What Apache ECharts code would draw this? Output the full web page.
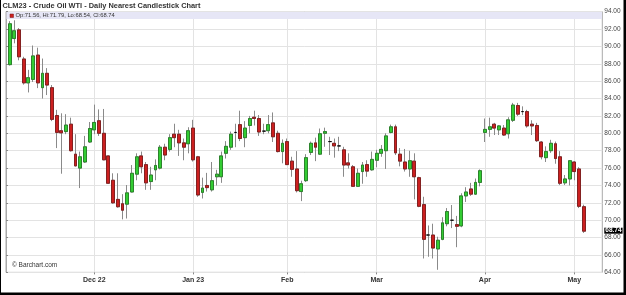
<!DOCTYPE html>
<html>
<head>
<meta charset="utf-8">
<script src="https://cdn.jsdelivr.net/npm/echarts@6/dist/echarts.min.js"></script>
<style>
html,body{margin:0;padding:0;background:#fff;}
#chart{width:626px;height:295px;}
</style>
</head>
<body>
<div id="chart"></div>
<script>
// Trading days (category axis)
var dates = [
 '2022-11-04','2022-11-07','2022-11-08','2022-11-09','2022-11-10','2022-11-11','2022-11-14','2022-11-15','2022-11-16','2022-11-17','2022-11-18','2022-11-21','2022-11-22','2022-11-23','2022-11-25','2022-11-28','2022-11-29','2022-11-30',
 '2022-12-01','2022-12-02','2022-12-05','2022-12-06','2022-12-07','2022-12-08','2022-12-09','2022-12-12','2022-12-13','2022-12-14','2022-12-15','2022-12-16','2022-12-19','2022-12-20','2022-12-21','2022-12-22','2022-12-23','2022-12-27','2022-12-28','2022-12-29','2022-12-30',
 '2023-01-03','2023-01-04','2023-01-05','2023-01-06','2023-01-09','2023-01-10','2023-01-11','2023-01-12','2023-01-13','2023-01-17','2023-01-18','2023-01-19','2023-01-20','2023-01-23','2023-01-24','2023-01-25','2023-01-26','2023-01-27','2023-01-30','2023-01-31',
 '2023-02-01','2023-02-02','2023-02-03','2023-02-06','2023-02-07','2023-02-08','2023-02-09','2023-02-10','2023-02-13','2023-02-14','2023-02-15','2023-02-16','2023-02-17','2023-02-21','2023-02-22','2023-02-23','2023-02-24','2023-02-27','2023-02-28',
 '2023-03-01','2023-03-02','2023-03-03','2023-03-06','2023-03-07','2023-03-08','2023-03-09','2023-03-10','2023-03-13','2023-03-14','2023-03-15','2023-03-16','2023-03-17','2023-03-20','2023-03-21','2023-03-22','2023-03-23','2023-03-24','2023-03-27','2023-03-28','2023-03-29','2023-03-30','2023-03-31',
 '2023-04-03','2023-04-04','2023-04-05','2023-04-06','2023-04-10','2023-04-11','2023-04-12','2023-04-13','2023-04-14','2023-04-17','2023-04-18','2023-04-19','2023-04-20','2023-04-21','2023-04-24','2023-04-25','2023-04-26','2023-04-27','2023-04-28',
 '2023-05-01','2023-05-02','2023-05-03'
];
var openP = [
 87.9,90.9,91.9,88.55,85.8,86.2,89.0,85.25,86.9,85.25,82.05,80.3,80.2,81.05,77.6,76.0,76.7,79.0,
 80.4,81.45,80.0,77.4,74.6,72.4,71.9,71.85,73.25,75.3,77.4,76.4,74.45,75.8,76.0,78.4,78.15,79.9,79.9,78.9,78.8,
 80.6,77.3,73.2,74.0,73.5,75.0,75.0,77.7,78.4,80.1,81.0,79.5,80.9,81.85,81.7,80.25,80.3,81.2,80.0,77.9,
 79.05,76.8,75.9,73.3,74.55,77.8,78.9,77.6,80.0,79.05,78.85,78.55,78.1,76.6,76.15,73.9,75.6,76.4,75.8,
 76.9,77.7,78.0,80.1,80.75,77.6,76.7,75.9,76.8,74.9,71.8,68.3,68.3,66.7,67.8,69.6,70.0,69.5,69.35,72.8,73.6,73.0,74.35,
 80.1,80.45,81.05,80.4,80.6,79.95,81.5,83.2,82.5,82.5,81.05,80.9,79.0,77.2,78.0,78.8,77.3,74.3,74.75,
 76.7,75.9,71.56
];
var highP = [
 92.9,93.0,92.1,88.8,87.3,90.1,89.85,88.6,87.5,85.55,82.7,82.3,82.2,81.8,79.9,77.9,79.7,81.3,
 83.3,82.75,82.8,77.45,75.4,75.4,73.0,74.05,76.35,77.7,77.9,76.7,76.15,77.0,78.65,78.8,79.9,81.1,80.4,79.4,80.7,
 81.55,77.4,74.9,75.45,76.7,75.8,77.9,79.1,80.2,81.1,82.6,81.4,82.0,82.6,82.1,81.1,82.1,82.4,80.3,79.3,
 79.4,77.3,77.95,74.55,77.6,79.05,79.5,80.55,80.65,79.6,79.4,79.6,78.45,77.7,76.35,75.95,76.7,76.9,77.9,
 78.1,78.65,80.0,81.0,81.0,78.3,78.2,78.0,77.7,75.0,72.7,69.4,69.6,68.1,70.35,71.4,71.75,70.5,73.1,73.8,74.3,74.8,75.85,
 81.7,81.8,81.2,80.95,80.95,81.85,83.5,83.5,83.1,82.7,81.5,81.2,79.1,78.5,79.25,79.05,77.95,75.2,76.9,
 76.8,76.1,71.79
];
var lowP = [
 87.8,90.35,88.4,85.6,84.7,85.9,85.2,84.0,84.4,81.4,78.3,75.35,79.9,77.9,76.2,73.7,76.6,78.9,
 79.9,79.7,76.9,74.2,71.9,71.45,70.1,70.2,73.2,74.6,75.4,73.5,73.5,74.6,75.85,76.9,77.9,78.4,77.4,76.9,77.7,
 76.75,72.7,72.5,73.3,73.3,74.0,74.3,77.1,78.1,78.4,79.1,78.4,80.0,80.9,79.7,79.9,80.0,79.0,77.8,76.55,
 76.35,75.0,73.2,72.2,74.4,77.5,76.8,77.5,78.45,77.5,77.2,77.95,75.0,75.95,73.85,73.85,74.2,75.0,75.7,
 76.1,77.3,75.9,80.0,77.5,76.2,75.6,75.0,72.4,71.5,65.6,65.8,65.6,64.3,67.7,69.3,69.1,66.9,69.2,72.1,72.8,72.9,73.9,
 79.0,79.6,79.8,79.8,79.7,79.4,81.3,82.0,82.1,80.65,79.8,79.0,77.0,76.7,77.75,76.5,74.05,74.05,74.0,
 74.6,71.4,68.54
];
var closeP = [
 92.6,91.8,88.8,85.8,86.4,88.9,85.8,86.9,85.55,81.6,80.1,80.05,80.95,78.0,76.25,77.3,78.45,80.55,
 81.25,80.0,76.95,74.25,72.0,71.55,71.15,73.15,75.4,77.3,76.15,74.3,75.2,76.3,78.4,77.5,79.5,79.5,78.9,78.4,80.3,
 76.95,72.9,73.7,73.75,74.55,75.3,77.4,78.5,79.9,80.1,79.4,80.6,81.7,81.7,80.15,80.25,81.0,79.6,77.9,78.85,
 76.4,75.85,73.4,74.2,77.2,78.85,78.4,79.95,80.2,79.05,78.55,78.55,76.35,76.35,73.9,75.4,76.35,75.65,77.0,
 77.7,78.15,79.7,80.75,77.75,76.8,75.9,76.85,75.0,71.6,67.8,68.3,66.8,67.7,69.7,71.0,70.0,69.3,72.8,73.25,73.0,74.35,75.7,
 80.45,80.75,80.6,80.85,79.8,81.55,83.25,82.2,82.5,80.85,80.85,79.15,77.3,77.9,78.85,77.1,74.25,74.75,76.85,
 75.6,71.6,68.74
];
// Month tick labels
var tickDates = ['2022-12-01','2023-01-03','2023-02-01','2023-03-01','2023-04-03','2023-05-01'];
var tickLabels = ['Dec 22','Jan 23','Feb','Mar','Apr','May'];

var labelMap = {};
tickDates.forEach(function(d,i){ labelMap[d] = tickLabels[i]; });
var isTick = function(idx, val){ return labelMap.hasOwnProperty(dates[idx]); };

var wickData = dates.map(function(d,i){ return [openP[i], closeP[i], lowP[i], highP[i]]; });
var bodyData = dates.map(function(d,i){
  return [openP[i], closeP[i], Math.min(openP[i], closeP[i]), Math.max(openP[i], closeP[i])];
});
var last = dates.length - 1;
var fmt = function(v){ return v.toFixed(2); };
var legendText = 'Op:' + fmt(openP[last]) + ', Hi:' + fmt(highP[last]) + ', Lo:' + fmt(lowP[last]) + ', Cl:' + fmt(closeP[last]);

var FONT = '"Liberation Sans", Arial, sans-serif';
var chart = echarts.init(document.getElementById('chart'), null, {renderer:'canvas'});
var baseGraphic = [
  {type: 'rect', z: 1, shape: {x: 6.5, y: 12, width: 595.5, height: 7}, style: {fill: '#e6e6f6'}},
  {type: 'rect', z: 10, shape: {x: 10, y: 14, width: 3.5, height: 3.5}, style: {fill: '#cc2020', stroke: '#7a1414', lineWidth: 0.5}},
  {type: 'text', z: 10, x: 15.5, y: 15.6, style: {text: legendText, font: '5.8px ' + FONT, fill: '#333', verticalAlign: 'middle'}},
  {type: 'text', z: 10, x: 2.5, y: 5.5, style: {text: 'CLM23 - Crude Oil WTI - Daily Nearest Candlestick Chart', font: 'bold 7.4px ' + FONT, fill: '#333', verticalAlign: 'middle'}},
  {type: 'text', z: 10, x: 12, y: 265, style: {text: '\u00A9 Barchart.com', font: '6.5px ' + FONT, fill: '#333', verticalAlign: 'middle'}},
  {type: 'rect', z: 20, shape: {x: 0, y: 0, width: 1, height: 295}, style: {fill: '#000'}},
  {type: 'rect', z: 20, shape: {x: 623.5, y: 0, width: 2.5, height: 295}, style: {fill: '#000'}},
  {type: 'rect', z: 20, shape: {x: 0, y: 292.5, width: 626, height: 2.5}, style: {fill: '#000'}}
];
chart.setOption({
  animation: false,
  backgroundColor: '#fff',
  grid: [
    {left: 6, right: 23.7, top: 11.6, bottom: 22.6, show: true, borderColor: '#a9a9a9', borderWidth: 1, backgroundColor: '#fff', containLabel: false},
    {left: 9.6, width: 574.1, top: 11.6, bottom: 22.6, containLabel: false}
  ],
  xAxis: [
    {gridIndex: 0, type: 'value', show: false, min: 0, max: 1},
    {gridIndex: 1, type: 'category', data: dates, boundaryGap: false,
     axisLine: {show: false},
     axisTick: {show: true, interval: isTick, length: 2, lineStyle: {color: '#888'}},
     axisLabel: {interval: isTick, formatter: function(v){ return labelMap[v] || ''; },
                 fontSize: 7, fontWeight: 'bold', color: '#333', margin: 4, fontFamily: FONT},
     splitLine: {show: true, interval: isTick, lineStyle: {color: '#e3e3e3', width: 1}}
    }
  ],
  yAxis: [
    {gridIndex: 0, type: 'value', position: 'right', min: 64, max: 94, interval: 2,
     axisLine: {show: true, lineStyle: {color: '#a9a9a9'}},
     axisTick: {show: true, length: 2, lineStyle: {color: '#888'}},
     axisLabel: {fontSize: 6.5, color: '#444', margin: 2, fontFamily: FONT, formatter: function(v){ return v.toFixed(2); }},
     splitLine: {show: true, lineStyle: {color: '#e3e3e3', width: 1}}
    },
    {gridIndex: 1, type: 'value', min: 64, max: 94, show: false}
  ],
  series: [
    {type: 'candlestick', name: 'wick', xAxisIndex: 1, yAxisIndex: 1, data: wickData,
     barWidth: 3.4, clip: false, silent: true, z: 3,
     itemStyle: {color: 'rgba(0,0,0,0)', color0: 'rgba(0,0,0,0)', borderColor: '#8a8a8a', borderColor0: '#8a8a8a', borderColorDoji: '#8a8a8a', borderWidth: 1}
    },
    {type: 'candlestick', name: 'CLM23', xAxisIndex: 1, yAxisIndex: 1, data: bodyData,
     barWidth: 3.4, clip: false, silent: true, z: 4,
     itemStyle: {color: '#33cc33', color0: '#cc2020', borderColor: '#1f7a1f', borderColor0: '#7a1414', borderColorDoji: '#000', borderWidth: 0.8}
    }
  ],
  graphic: baseGraphic
});
// Last-price tag on the right price axis, positioned through the axis scale
var tagY = chart.convertToPixel({yAxisIndex: 0}, closeP[last]);
var axisX = chart.convertToPixel({gridIndex: 0}, [1, closeP[last]])[0];
chart.setOption({
  graphic: baseGraphic.concat([
    {type: 'text', z: 30, x: axisX + 2, y: tagY - 0.5,
     style: {text: fmt(closeP[last]), font: 'bold 6.5px ' + FONT, fill: '#fff', backgroundColor: '#000',
             padding: [0, 1, 0, 1], verticalAlign: 'middle', lineHeight: 6}}
  ])
}, {replaceMerge: ['graphic']});
</script>
</body>
</html>
